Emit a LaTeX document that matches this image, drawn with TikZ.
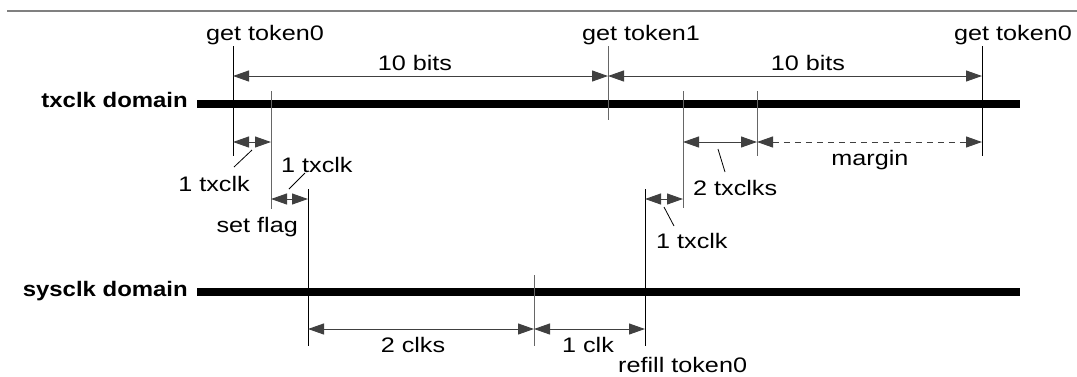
\documentclass[tikz,border=0pt]{standalone}
\usepackage{fontspec}
\setmainfont{Liberation Sans}[FakeStretch=1.2, BoldFeatures={FakeStretch=1.14}]
\usetikzlibrary{arrows.meta}

\begin{document}
\begin{tikzpicture}[
    x=1pt, y=-1pt,
    clkline/.style={line width=8pt},
    tick/.style={line width=1pt},
    gtick/.style={line width=1pt, black!60},
    dim/.style={{Triangle[length=16pt,width=11pt]}-{Triangle[length=16pt,width=11pt]}, line width=1pt, black!75},
    lbl/.style={font=\fontsize{21}{25}\selectfont, inner sep=0pt, anchor=base},
    bold/.style={lbl, font=\fontsize{21}{25}\selectfont\bfseries, anchor=base east},
    lead/.style={line width=0.8pt}
]
\useasboundingbox (0,0) rectangle (1077,376);

% Frame line
\draw[line width=2pt, black!50] (7,11) -- (1077,11);

% Domains
\node[bold] (tx) at (188,107) {txclk domain};
\node[bold] (sys) at (188,296) {sysclk domain};
\draw[clkline] (197,104) -- (1020,104);
\draw[clkline] (197,291.5) -- (1020,291.5);

% Ticks
\draw[tick] (233,46) -- (233,156);
\draw[gtick] (271,91) -- (271,209);
\draw[tick] (308,189) -- (308,346);
\draw[gtick] (608,46) -- (608,120);
\draw[gtick] (683,91) -- (683,208);
\draw[gtick] (757,91) -- (757,156);
\draw[tick] (982,46) -- (982,156);
\draw[tick] (645,189) -- (645,346);
\draw[gtick] (534,275) -- (534,346);

% Events
\node[lbl] (get0) at (265,40) {get token0};
\node[lbl] (get1) at (641,40) {get token1};
\node[lbl] (get2) at (1013,40) {get token0};
\node[lbl, anchor=base east] (flag) at (298,232) {set flag};
\node[lbl, anchor=base west] (refill) at (618,372) {refill token0};

% Arrow ends
\coordinate (b0) at (233,76);
\coordinate (b1) at (608,76);
\coordinate (b2) at (982,76);
\coordinate (d0) at (233,142);
\coordinate (d1) at (271,142);
\coordinate (e0) at (271,199);
\coordinate (e1) at (308,199);
\coordinate (m0) at (683,142);
\coordinate (m1) at (757,142);
\coordinate (m2) at (982,142);
\coordinate (r0) at (645,199);
\coordinate (r1) at (683,199);
\coordinate (c0) at (308,329);
\coordinate (c1) at (534,329);
\coordinate (c2) at (645,329);

% Arrows
\draw[dim] (b0) -- (b1);
\draw[dim] (b1) -- (b2);
\draw[dim] (d0) -- (d1);
\draw[dim] (e0) -- (e1);
\draw[dim] (m0) -- (m1);
\draw[dim, dash pattern=on 6pt off 5pt] (m1) -- (m2);
\draw[dim] (r0) -- (r1);
\draw[dim] (c0) -- (c1);
\draw[dim] (c1) -- (c2);

% Labels
\node[lbl] (bits0) at (415,70) {10 bits};
\node[lbl] (bits1) at (808,70) {10 bits};
\node[lbl, anchor=base east] (tx0) at (250,191) {1 txclk};
\node[lbl, anchor=base west] (tx1) at (281,172) {1 txclk};
\node[lbl, anchor=base west] (tx2) at (693,195) {2 txclks};
\node[lbl] (marg) at (870,165) {margin};
\node[lbl, anchor=base west] (tx3) at (656,248) {1 txclk};
\node[lbl] (clk2) at (413,352) {2 clks};
\node[lbl] (clk1) at (588,352) {1 clk};

% Leaders
\draw[lead] (234,167) -- (252,150);
\draw[lead] (289,189) -- (305,173);
\draw[lead] (718,149) -- (725,172);
\draw[lead] (664,207) -- (674,226);

\end{tikzpicture}
\end{document}
